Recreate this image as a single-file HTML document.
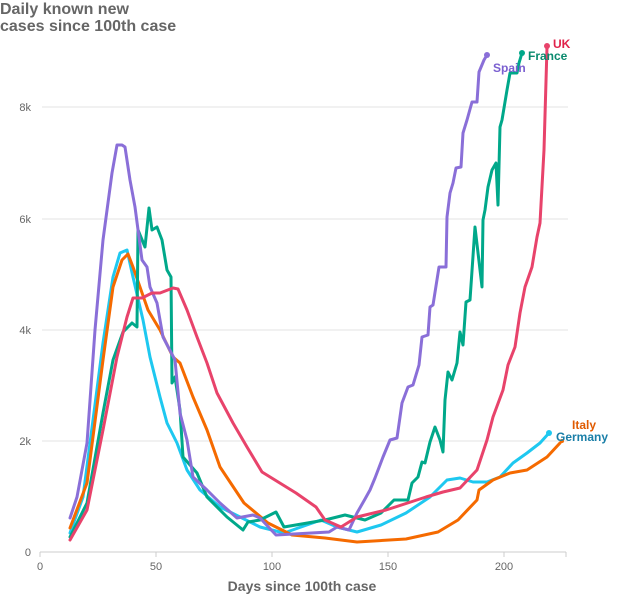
<!DOCTYPE html>
<html><head><meta charset="utf-8"><style>
body{margin:0;background:#fff;font-family:"Liberation Sans",sans-serif}
</style></head><body>
<svg width="638" height="600" xmlns="http://www.w3.org/2000/svg" font-family="Liberation Sans, sans-serif">
<text x="0" y="14" font-size="16" font-weight="bold" fill="#666">Daily known new</text>
<text x="0" y="31" font-size="16" font-weight="bold" fill="#666">cases since 100th case</text>
<g stroke="#e3e3e3" stroke-width="1">
<line x1="42" y1="107" x2="568" y2="107"/><line x1="42" y1="219" x2="568" y2="219"/>
<line x1="42" y1="330" x2="568" y2="330"/><line x1="42" y1="441" x2="568" y2="441"/>
</g>
<line x1="40" y1="552" x2="566" y2="552" stroke="#ccc"/>
<g stroke="#ccc"><line x1="40" y1="552" x2="40" y2="557"/><line x1="156" y1="552" x2="156" y2="557"/><line x1="272" y1="552" x2="272" y2="557"/><line x1="388" y1="552" x2="388" y2="557"/><line x1="504" y1="552" x2="504" y2="557"/><line x1="566" y1="552" x2="566" y2="557"/></g>
<g font-size="11" fill="#666" text-anchor="end"><text x="31" y="111">8k</text><text x="31" y="223">6k</text><text x="31" y="334">4k</text><text x="31" y="445">2k</text><text x="31" y="556">0</text></g>
<g font-size="11" fill="#666" text-anchor="middle"><text x="40" y="570">0</text><text x="156" y="570">50</text><text x="272" y="570">100</text><text x="388" y="570">150</text><text x="504" y="570">200</text></g>
<text x="302" y="591" font-size="14" font-weight="bold" fill="#666" text-anchor="middle">Days since 100th case</text>
<g fill="none" stroke-width="3" stroke-linejoin="round" stroke-linecap="round">
<polyline stroke="#1ec8f0" points="70,533 83,497 103,343 113,277 120,253 127,250 133,277 143,320 150,357 160,397 167,423 177,443 187,470 200,490 220,507 240,517 260,527 284,533 321,520 337,527 357,532 381,525 406,513 430,497 447,480 460,478 473,482 487,482 500,477 513,463 527,453 540,443 549,433"/>
<polyline stroke="#f56a00" points="70,528 87,483 103,360 113,287 122,260 128,254 133,267 148,310 160,330 173,357 180,363 193,397 207,430 220,467 240,497 244,503 268,523 292,535 325,538 357,542 406,539 438,532 458,520 477,500 479,490 493,480 510,473 527,470 547,457 560,443"/>
<polyline stroke="#00a88a" points="70,537 87,503 103,413 113,360 123,332 132,323 137,327 138,230 145,247 149,208 152,230 157,227 162,240 167,270 171,277 172,383 175,377 180,410 183,457 197,473 207,497 227,517 243,530 248,522 260,520 276,512 284,527 325,520 345,515 365,520 381,513 394,500 406,500 408,500 412,483 418,477 422,462 425,463 430,442 435,427 440,440 443,452 445,400 448,372 452,380 457,363 460,332 463,345 466,302 470,300 475,227 482,287 483,220 485,210 488,187 492,170 496,163 498,205 500,127 502,120 507,90 510,73 517,73 519,63 522,53"/>
<polyline stroke="#8a6fd8" points="70,518 77,497 87,443 95,330 103,240 112,173 117,145 122,145 125,147 130,180 135,207 142,260 147,267 150,287 157,303 163,337 175,360 180,413 187,440 193,477 207,490 220,503 237,518 253,515 260,518 276,535 329,532 337,527 349,530 357,513 365,499 370,490 375,478 383,457 390,440 397,438 402,403 408,387 413,385 419,365 422,337 428,335 430,307 433,305 439,267 446,267 447,217 450,193 453,183 456,168 461,167 463,133 467,120 472,102 477,102 479,72 484,60 487,55"/>
<polyline stroke="#e8436b" points="70,540 87,510 103,430 117,357 127,317 133,298 142,298 152,293 160,293 173,288 178,289 187,310 197,337 207,363 217,393 233,423 247,447 262,472 296,493 316,507 325,520 341,527 357,517 386,510 426,497 443,492 460,488 477,470 487,440 493,417 503,390 508,365 515,347 520,313 525,287 532,267 537,237 540,223 544,150 547,47"/>
</g>
<circle cx="487" cy="55" r="3" fill="#8a6fd8"/><circle cx="522" cy="53" r="3" fill="#00a88a"/><circle cx="547" cy="46" r="3" fill="#e8436b"/><circle cx="549" cy="433" r="3" fill="#1ec8f0"/><circle cx="562" cy="441" r="2" fill="#f56a00"/>
<g font-size="12" font-weight="bold">
<text x="553" y="48" fill="#e0224a">UK</text>
<text x="528" y="60" fill="#0a8a6e">France</text>
<text x="493" y="72" fill="#7a5fd0">Spain</text>
<text x="572" y="429" fill="#e05a00">Italy</text>
<text x="556" y="441" fill="#1a7fa8">Germany</text>
</g>
</svg>
</body></html>
